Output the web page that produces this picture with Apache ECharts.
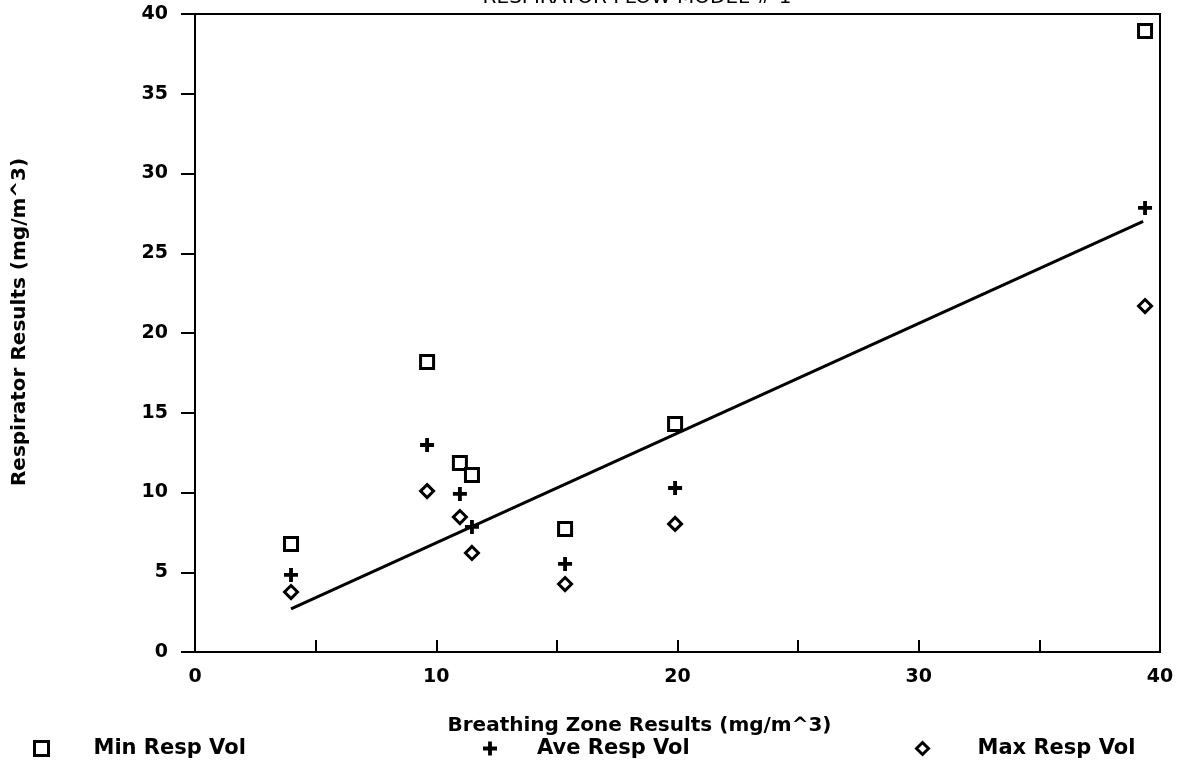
<!DOCTYPE html>
<html><head><meta charset="utf-8">
<script src="https://cdn.jsdelivr.net/npm/echarts@6/dist/echarts.min.js"></script>
<style>html,body{margin:0;padding:0;background:#fff}#c{width:1188px;height:764px}</style>
</head><body><div id="c"></div>
<script>
const breathingZone = [3.98, 9.62, 10.98, 11.48, 15.34, 19.9, 39.38];
const minResp = [6.77, 18.18, 11.85, 11.1, 7.71, 14.3, 38.93];
const aveResp = [4.83, 12.98, 9.91, 7.84, 5.52, 10.28, 27.84];
const maxResp = [3.76, 10.09, 8.46, 6.21, 4.26, 8.03, 21.69];
const fitX = [3.98, 39.3];
const fitY = [2.7, 27.0];
const xTicks = [0, 10, 20, 30, 40];
const yTicks = [0, 5, 10, 15, 20, 25, 30, 35, 40];

const pair = (xs, ys) => xs.map((x, i) => [x, ys[i]]);
const font = 'DejaVu Sans';
const plusPath = 'path://M4,0H7V4H11V7H7V11H4V7H0V4H4Z';
const txt = (size, extra) => Object.assign({fontFamily: font, fontSize: size, fontWeight: 'bold', color: '#000'}, extra || {});

const chart = echarts.init(document.getElementById('c'));
chart.setOption({
  backgroundColor: '#fff',
  animation: false,
  title: {
    text: 'RESPIRATOR FLOW MODEL # 1',
    left: 637, top: -12, textAlign: 'center', padding: 0,
    textStyle: txt(20, {fontWeight: 'normal'})
  },
  grid: {left: 195, right: 28, top: 14, bottom: 112, show: true, borderColor: '#000', borderWidth: 2, backgroundColor: 'transparent'},
  xAxis: {
    type: 'value', min: 0, max: 40, interval: 5,
    name: 'Breathing Zone Results (mg/m^3)', nameLocation: 'middle', nameGap: 64,
    nameTextStyle: txt(20, {padding: [0, 76, 0, 0]}),
    axisLine: {lineStyle: {color: '#000', width: 2}},
    axisTick: {inside: true, length: 12, lineStyle: {color: '#000', width: 2}},
    splitLine: {show: false},
    axisLabel: Object.assign(txt(19), {margin: 16,
      formatter: v => xTicks.includes(v) ? String(v) : ''})
  },
  yAxis: {
    type: 'value', min: 0, max: 40, interval: 5,
    name: 'Respirator Results (mg/m^3)', nameLocation: 'middle', nameGap: 165,
    nameTextStyle: txt(20, {padding: [0, 0, 0, 22]}),
    axisLine: {show: true, lineStyle: {color: '#000', width: 2}},
    axisTick: {show: true, length: 14, lineStyle: {color: '#000', width: 2}},
    splitLine: {show: false},
    axisLabel: Object.assign(txt(19), {margin: 27,
      formatter: v => yTicks.includes(v) ? String(v) : ''})
  },
  legend: [
    {data: ['Min Resp Vol'], left: 33, top: 738, padding: 0, itemWidth: 14, itemHeight: 14,
     itemStyle: {borderWidth: 3, borderColor: '#000', color: '#fff'},
     textStyle: txt(21, {padding: [0, 0, 0, 40]})},
    {data: ['Ave Resp Vol'], left: 483, top: 738, padding: 0, itemWidth: 14, itemHeight: 14,
     textStyle: txt(21, {padding: [0, 0, 0, 35]})},
    {data: ['Max Resp Vol'], left: 915, top: 738, padding: 0, itemWidth: 12, itemHeight: 12,
     itemStyle: {borderWidth: 3, borderColor: '#000', color: '#fff'},
     textStyle: txt(21, {padding: [0, 0, 0, 44]})}
  ],
  series: [
    {name: 'Min Resp Vol', type: 'scatter', data: pair(breathingZone, minResp),
     symbol: 'rect', symbolSize: 13,
     itemStyle: {color: '#fff', borderColor: '#000', borderWidth: 3, opacity: 1}},
    {name: 'Ave Resp Vol', type: 'scatter', data: pair(breathingZone, aveResp),
     symbol: plusPath, symbolSize: 14,
     itemStyle: {color: '#000', opacity: 1}},
    {name: 'Max Resp Vol', type: 'scatter', data: pair(breathingZone, maxResp),
     symbol: 'diamond', symbolSize: 13,
     itemStyle: {color: '#fff', borderColor: '#000', borderWidth: 3, opacity: 1}},
    {name: 'fit', type: 'line', data: pair(fitX, fitY), showSymbol: false, symbol: 'none',
     lineStyle: {color: '#000', width: 3}, z: 1}
  ]
});
</script></body></html>
